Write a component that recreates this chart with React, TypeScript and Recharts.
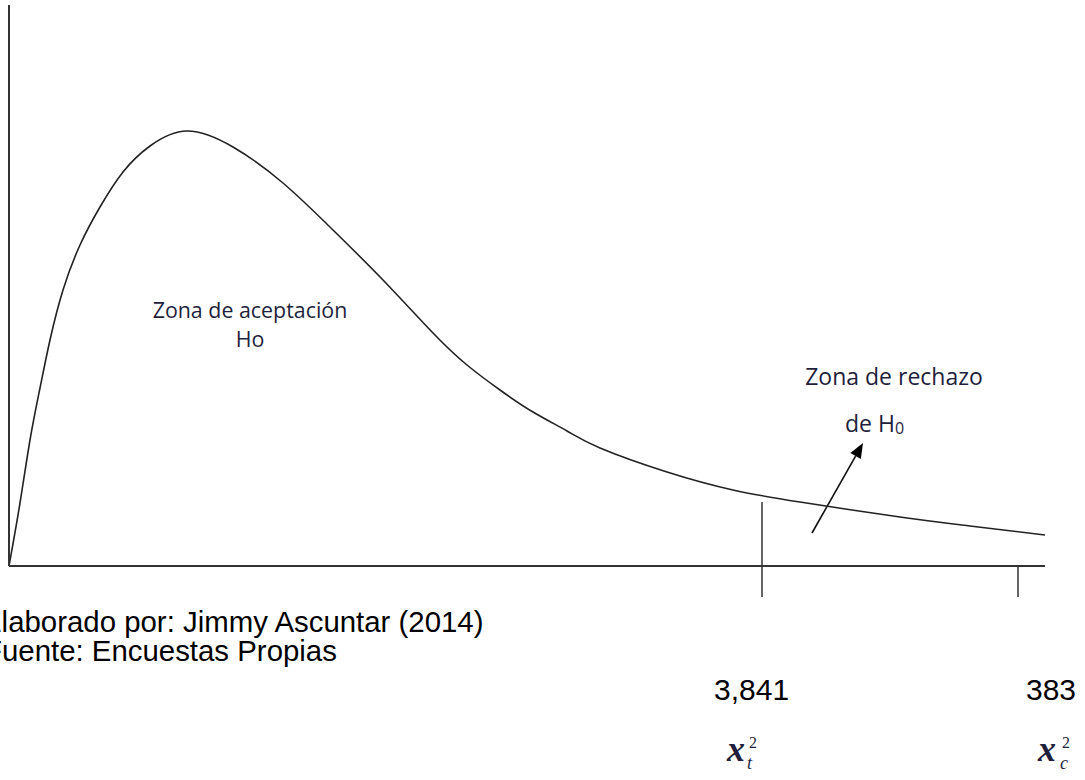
import React from "react";
import { LineChart, Line, XAxis, YAxis, ReferenceLine } from "recharts";

// curve (x along the axis, y = height above the axis)
const curveX = [0, 11, 21, 31, 41, 54, 71, 91, 114, 141, 178, 224, 274, 324, 374, 424, 458, 491, 524, 558, 591, 658, 724, 791, 891, 961, 1036];
const curveY = [0, 63, 126, 178, 226, 276, 321, 359, 394, 420, 435, 419, 383, 336, 286, 233, 201, 176, 154, 135, 118, 94, 76, 64, 49, 40, 31];

const tickValues = [753, 1009];
const tickLabels = ["3,841", "383"];
const statSubs = ["t", "c"];

const INK = "#333";
const NAVY = "#1f1f3d";

const data = curveX.map(function (x, i) {
  return { x: x, y: curveY[i] };
});

// label offsets relative to each tick
const tickOffsets = [
  { num: -48, x: -35, sup: -13, sub: -15 },
  { num: 8, x: 20, sup: 44, sub: 42 }
];

function ChiTick(props: any) {
  const { x, y, payload, index } = props;
  const i = tickValues.indexOf(payload.value);
  const k = i < 0 ? index : i;
  const o = tickOffsets[k];
  return (
    <g>
      <text x={x + o.num} y={y + 101} fontFamily="Liberation Sans, Arial" fontSize={30} fill="#000">
        {tickLabels[k]}
      </text>
      <text x={x + o.x} y={y + 162} fontFamily="Liberation Serif, serif" fontStyle="italic" fontWeight="bold" fontSize={36} fill={NAVY}>
        x
      </text>
      <text x={x + o.sup} y={y + 149} fontFamily="Liberation Serif, serif" fontSize={16} fill={NAVY}>
        2
      </text>
      <text x={x + o.sub} y={y + 170} fontFamily="Liberation Serif, serif" fontStyle="italic" fontSize={18} fill={NAVY}>
        {statSubs[k]}
      </text>
    </g>
  );
}

function Arrow(props: any) {
  const { x1, y1, x2, y2 } = props;
  const a = Math.atan2(y2 - y1, x2 - x1);
  const len = 15;
  const w = 6;
  const bx = x2 - len * Math.cos(a);
  const by = y2 - len * Math.sin(a);
  const px = -Math.sin(a) * w;
  const py = Math.cos(a) * w;
  return (
    <g>
      <line x1={x1} y1={y1} x2={bx} y2={by} stroke="#111" strokeWidth={1.6} />
      <polygon points={`${x2},${y2} ${bx + px},${by + py} ${bx - px},${by - py}`} fill="#000" />
    </g>
  );
}

export default function App() {
  const accept = { fontFamily: "Open Sans, sans-serif", fontSize: 21.4, fill: NAVY };
  const reject = { fontFamily: "Open Sans, sans-serif", fontSize: 23, fill: NAVY };
  return (
    <div style={{ position: "absolute", left: 0, top: 0, width: 1085, height: 780, overflow: "hidden", background: "#fff" }}>
      <LineChart width={1085} height={780} data={data} margin={{ top: 5, left: 8, right: 40, bottom: 184 }}>
        <XAxis
          type="number"
          dataKey="x"
          domain={[0, 1036]}
          ticks={tickValues}
          interval={0}
          height={30}
          tickSize={31}
          tickLine={{ stroke: INK, strokeWidth: 1.5 }}
          axisLine={{ stroke: INK, strokeWidth: 2 }}
          tick={<ChiTick />}
        />
        <YAxis type="number" domain={[0, 561]} width={1} tick={false} tickLine={false} axisLine={{ stroke: INK, strokeWidth: 2 }} />
        <ReferenceLine segment={[{ x: 753, y: 0 }, { x: 753, y: 64 }]} stroke={INK} strokeWidth={1.5} ifOverflow="visible" />
        <ReferenceLine
          segment={[{ x: 803, y: 33 }, { x: 854, y: 123 }]}
          ifOverflow="visible"
          shape={(p: any) => <Arrow {...p} />}
        />
        <Line type="natural" dataKey="y" stroke="#222" strokeWidth={1.6} dot={false} isAnimationActive={false} />
      </LineChart>
      <svg width={1085} height={780} style={{ position: "absolute", left: 0, top: 0, pointerEvents: "none" }}>
        <text x={250} y={318} textAnchor="middle" {...accept}>Zona de aceptación</text>
        <text x={250} y={347} textAnchor="middle" {...accept}>Ho</text>
        <text x={894} y={385} textAnchor="middle" {...reject}>Zona de rechazo</text>
        <text x={845} y={432} {...reject}>
          de H<tspan fontSize={16} dy={2}>0</tspan>
        </text>
        <text x={-18} y={632} fontFamily="Liberation Sans, Arial" fontSize={29.4} fill="#000">
          Elaborado por: Jimmy Ascuntar (2014)
        </text>
        <text x={-16} y={661} fontFamily="Liberation Sans, Arial" fontSize={29.4} fill="#000">
          Fuente: Encuestas Propias
        </text>
      </svg>
    </div>
  );
}
